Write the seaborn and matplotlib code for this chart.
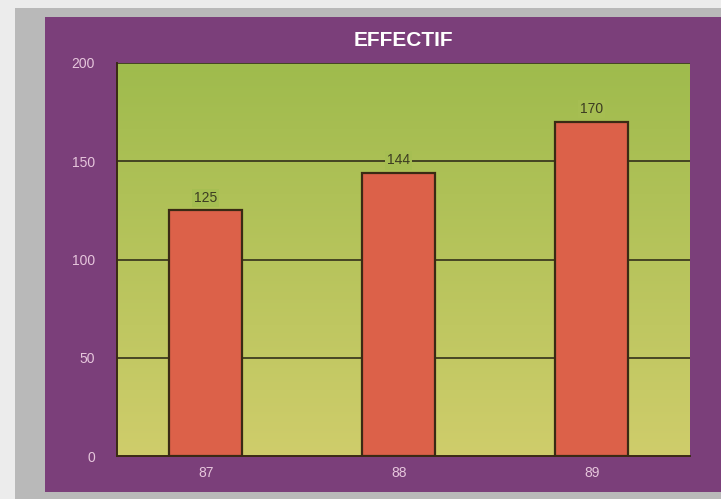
import numpy as np
import pandas as pd
import matplotlib
matplotlib.use("Agg")
import matplotlib.pyplot as plt
import matplotlib.patches as patches
from matplotlib.colors import LinearSegmentedColormap
import seaborn as sns

# data
years = ["87", "88", "89"]
effectif = [125, 144, 170]
y_ticks = [0, 50, 100, 150, 200]

purple = "#7b3f7a"
bar_red = "#dc6149"
dark = "#3a2a14"
label_pink = "#e6c6dc"

sns.set_style("white")
plt.rcParams['font.family'] = ['Liberation Sans', 'DejaVu Sans']

fig = plt.figure(figsize=(7.21, 4.99), dpi=100, facecolor="#ececec")

# grey card edge and purple frame behind the chart
fig.patches.append(patches.Rectangle((15/721, 0), 1, (499-8)/499, transform=fig.transFigure,
                                     facecolor="#b9b9b9", edgecolor="none", zorder=-3))
fig.patches.append(patches.Rectangle((45/721, 7/499), 1, (492-17)/499, transform=fig.transFigure,
                                     facecolor=purple, edgecolor="none", zorder=-2))

ax = fig.add_axes([117/721, 43/499, 573/721, 393/499])
ax.set_facecolor("none")

x_left, x_right = -0.46, 2.51

# green gradient inside the plot area
cmap = LinearSegmentedColormap.from_list("bg", ["#cfcd6b", "#9fbb4d"])
grad = np.linspace(0, 1, 256).reshape(-1, 1)
ax.imshow(grad, cmap=cmap, aspect="auto", origin="lower",
          extent=(x_left, x_right, 0, 200), zorder=0)

df = pd.DataFrame({"annee": years, "effectif": effectif})
sns.barplot(data=df, x="annee", y="effectif", color=bar_red, width=0.38,
            edgecolor=dark, linewidth=1.6, saturation=1, ax=ax, zorder=3)

for i, v in enumerate(effectif):
    ax.annotate(str(v), (i, v), xytext=(0, 4), textcoords="offset points",
                ha="center", va="bottom", fontsize=10, color="#3c3c22", zorder=5,
                bbox=dict(boxstyle="square,pad=0.15", facecolor="#a6be52", edgecolor="none"))

for y in [50, 100, 150, 200]:
    ax.axhline(y, color="#33301a", linewidth=1.2, zorder=1)

ax.set_xlim(x_left, x_right)
ax.set_ylim(0, 200)
ax.set_yticks(y_ticks)
ax.set_yticklabels([str(t) for t in y_ticks], fontsize=10, color=label_pink)
ax.set_xticks(range(len(years)))
ax.set_xticklabels(years, fontsize=10, color=label_pink)
ax.set_xticks([0.5, 1.5, 2.5], minor=True)
ax.tick_params(axis="x", which="major", length=0, pad=7)
ax.tick_params(axis="x", which="minor", length=12, direction="inout", color=dark, width=1.2)
ax.tick_params(axis="y", which="major", length=6, direction="out", color=dark, width=1.2, pad=10)
ax.set_xlabel("")
ax.set_ylabel("")

for side in ["top", "right"]:
    ax.spines[side].set_visible(False)
ax.spines["left"].set_color(dark)
ax.spines["left"].set_linewidth(1.4)
ax.spines["bottom"].set_color(dark)
ax.spines["bottom"].set_linewidth(1.4)

fig.text(403/721, (499-40)/499, "EFFECTIF", ha="center", va="center",
         fontsize=15, fontweight="bold", color="white")

fig.savefig("out.png", dpi=100, facecolor=fig.get_facecolor())
